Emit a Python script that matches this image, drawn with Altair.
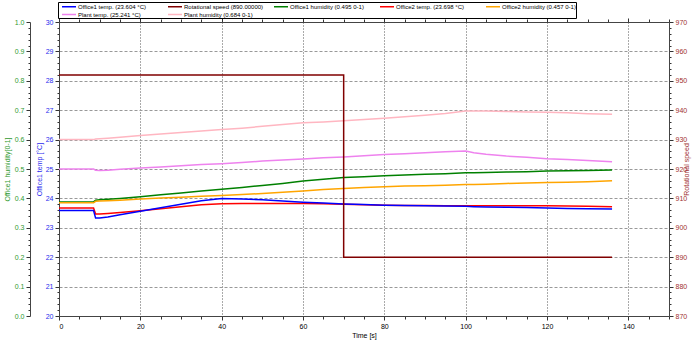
import altair as alt
import pandas as pd

# ---------------- data ----------------
series_names = [
    "Office1 temp. (23.604 °C)",
    "Rotational speed (890.00000)",
    "Office1 humidity (0.495 0-1)",
    "Office2 temp. (23.698 °C)",
    "Office2 humidity (0.457 0-1)",
    "Plant temp. (25.241 °C)",
    "Plant humidity (0.684 0-1)",
]
series_colors = ["#0000FF", "#800000", "#008000", "#FF0000", "#FFA500", "#EE82EE", "#FFB6C1"]

time_s = [0, 8.5, 9, 10, 12, 15, 20, 25, 30, 35, 40, 45, 50, 55, 60, 65, 70,
          75, 80, 85, 90, 95, 100, 102, 105, 110, 115, 120, 125, 130, 136]

office1_temp = [23.59, 23.59, 23.33, 23.33, 23.37, 23.44, 23.56, 23.68, 23.80, 23.92,
                24.00, 23.98, 23.95, 23.91, 23.87, 23.84, 23.81, 23.79, 23.77, 23.76,
                23.75, 23.74, 23.73, 23.72, 23.71, 23.70, 23.69, 23.67, 23.66, 23.65, 23.64]
office2_temp = [23.67, 23.67, 23.47, 23.47, 23.49, 23.52, 23.58, 23.65, 23.72, 23.78,
                23.82, 23.83, 23.83, 23.83, 23.83, 23.82, 23.80, 23.78, 23.77, 23.76,
                23.76, 23.75, 23.75, 23.75, 23.75, 23.75, 23.75, 23.75, 23.74, 23.73, 23.72]
plant_temp = [25.00, 25.00, 24.96, 24.95, 24.96, 24.99, 25.03, 25.07, 25.11, 25.15,
              25.18, 25.22, 25.27, 25.31, 25.34, 25.38, 25.41, 25.45, 25.49, 25.52,
              25.55, 25.59, 25.61, 25.55, 25.50, 25.44, 25.40, 25.35, 25.32, 25.29, 25.25]
office1_hum = [0.388, 0.388, 0.394, 0.395, 0.397, 0.400, 0.406, 0.412, 0.418, 0.425,
               0.431, 0.437, 0.444, 0.451, 0.459, 0.465, 0.471, 0.474, 0.477, 0.480,
               0.482, 0.484, 0.487, 0.487, 0.488, 0.490, 0.491, 0.493, 0.494, 0.495, 0.497]
office2_hum = [0.385, 0.385, 0.390, 0.391, 0.392, 0.394, 0.398, 0.401, 0.404, 0.407,
               0.410, 0.413, 0.417, 0.421, 0.425, 0.430, 0.434, 0.437, 0.440, 0.442,
               0.443, 0.445, 0.447, 0.447, 0.448, 0.451, 0.452, 0.454, 0.455, 0.457, 0.460]
plant_hum = [0.600, 0.600, 0.602, 0.603, 0.605, 0.608, 0.614, 0.619, 0.624, 0.629,
             0.634, 0.639, 0.645, 0.651, 0.657, 0.660, 0.664, 0.668, 0.673, 0.678,
             0.683, 0.689, 0.697, 0.697, 0.697, 0.696, 0.694, 0.693, 0.691, 0.688, 0.686]

rot_time = [0, 70, 70, 136]
rot_speed = [952, 952, 890, 890]

# axis tick positions
x_ticks = [i * 5 for i in range(31)]
temp_ticks = [round(20 + i * 0.2, 1) for i in range(51)]
hum_ticks = [round(i * 0.02, 2) for i in range(51)]
rpm_ticks = [870 + i * 2 for i in range(51)]


def long(pairs, times):
    rows = []
    for name, vals in pairs:
        for i, (t, v) in enumerate(zip(times, vals)):
            rows.append({"series": name, "t": t, "v": v, "i": i})
    return pd.DataFrame(rows)


temp_df = long([(series_names[5], plant_temp), (series_names[3], office2_temp),
                (series_names[0], office1_temp)], time_s)
hum_df = long([(series_names[6], plant_hum), (series_names[2], office1_hum),
               (series_names[4], office2_hum)], time_s)
rpm_df = long([(series_names[1], rot_speed)], rot_time)

FONT = "Liberation Sans"
AX_FS = 7

color = alt.Color(
    "series:N",
    scale=alt.Scale(domain=series_names, range=series_colors),
    legend=alt.Legend(
        orient="none", legendX=-1, legendY=-20, direction="horizontal",
        columns=5, gridAlign="all", title=None,
        symbolType="M-0.14,0H3.86", symbolSize=49, symbolStrokeWidth=1.5,
        labelFontSize=6, labelFont=FONT, labelOffset=11, labelColor="black",
        padding=0, rowPadding=0, columnPadding=6,
        strokeColor="black", fillColor="white",
    ),
)

def cond(test, a, b):
    return {"condition": {"test": test, "value": a}, "value": b}

x_major = "datum.value % 20 == 0"
x_domain = alt.Scale(domain=[0, 150], nice=False, zero=False)

x_bottom = alt.X(
    "t:Q", scale=x_domain,
    axis=alt.Axis(
        orient="bottom", values=x_ticks, labelOverlap=False,
        labelExpr=f"{x_major} ? datum.label : ''",
        tickSize=cond(x_major, 4, 3), tickColor="#333", domainColor="#444",
        grid=True, gridOpacity=cond(x_major + " && datum.value > 0 && datum.value < 150", 1, 0),
        gridDash=[1, 2], gridColor="#555",
        labelFontSize=AX_FS, labelFont=FONT, labelColor="black", labelPadding=2,
        title="Time [s]", titleFontSize=AX_FS, titleFont=FONT, titleFontWeight="normal",
        titlePadding=2, titleColor="black",
    ),
)
x_top = alt.X(
    "t:Q", scale=x_domain,
    axis=alt.Axis(
        orient="top", values=x_ticks, labels=False, grid=False,
        tickSize=cond(x_major, 4, 3), tickColor="#333", domainColor="#444",
        title=None,
    ),
)
x_none = alt.X("t:Q", scale=x_domain, axis=None)

t_major = "abs(datum.value - round(datum.value)) < 0.001"
temp_y = alt.Y(
    "v:Q", scale=alt.Scale(domain=[20, 30], nice=False, zero=False),
    axis=alt.Axis(
        orient="left", values=temp_ticks, labelOverlap=False, format=".1f",
        labelExpr=f"{t_major} ? format(datum.value, '.0f') : ''",
        tickSize=cond(t_major, 4, 2), tickColor="#333", domainColor="#444",
        grid=True, gridOpacity=cond(t_major + " && datum.value > 20 && datum.value < 30", 1, 0),
        gridDash=[3, 2], gridColor="#999",
        labelFontSize=AX_FS, labelFont=FONT, labelColor="#2a2aee", labelPadding=2,
        title="Office1 temp [°C]", titleFontSize=AX_FS, titleFont=FONT,
        titleFontWeight="normal", titleColor="#2a2aee", titlePadding=3,
    ),
)

h_major = "abs(datum.value * 10 - round(datum.value * 10)) < 0.001"
hum_y = alt.Y(
    "v:Q", scale=alt.Scale(domain=[0, 1], nice=False, zero=False),
    axis=alt.Axis(
        orient="left", offset=29, values=hum_ticks, labelOverlap=False, format=".2f",
        labelExpr=f"{h_major} ? format(datum.value, '.1f') : ''",
        tickSize=cond(h_major, 4, 2), tickColor="#333", domainColor="#444",
        grid=False,
        labelFontSize=AX_FS, labelFont=FONT, labelColor="#2f9a2f", labelPadding=2,
        title="Office1 humidity[0-1]", titleFontSize=AX_FS, titleFont=FONT,
        titleFontWeight="normal", titleColor="#2f9a2f", titlePadding=4,
    ),
)

r_major = "datum.value % 10 == 0"
rpm_y = alt.Y(
    "v:Q", scale=alt.Scale(domain=[870, 970], nice=False, zero=False),
    axis=alt.Axis(
        orient="right", values=rpm_ticks, labelOverlap=False,
        labelExpr=f"{r_major} ? datum.label : ''",
        tickSize=cond(r_major, 4, 2), tickColor="#333", domainColor="#444",
        grid=False,
        labelFontSize=AX_FS, labelFont=FONT, labelColor="#a03030", labelPadding=2,
        title="Rotational speed", titleFontSize=AX_FS, titleFont=FONT, titleAngle=270,
        titleFontWeight="normal", titleColor="#a03030", titlePadding=3,
    ),
)

hum_layer = alt.Chart(hum_df).mark_line(strokeWidth=1.5).encode(
    x=x_none, y=hum_y, color=color, detail="series:N", order="i:Q")
temp_layer = alt.Chart(temp_df).mark_line(strokeWidth=1.5).encode(
    x=x_bottom, y=temp_y, color=color, detail="series:N", order="i:Q")
rpm_layer = alt.Chart(rpm_df).mark_line(strokeWidth=1.5).encode(
    x=x_top, y=rpm_y, color=color, detail="series:N", order="i:Q")

chart = (
    alt.layer(hum_layer, temp_layer, rpm_layer)
    .resolve_scale(y="independent")
    .resolve_axis(x="independent", y="independent")
    .properties(
        width=610, height=294,
        autosize=alt.AutoSizeParams(type="none"),
        padding={"left": 59, "top": 22, "right": 31, "bottom": 27},
        background="white",
    )
    .configure_view(strokeWidth=0)
)

chart.save("out.html", embed_options={"renderer": "svg", "actions": False})
